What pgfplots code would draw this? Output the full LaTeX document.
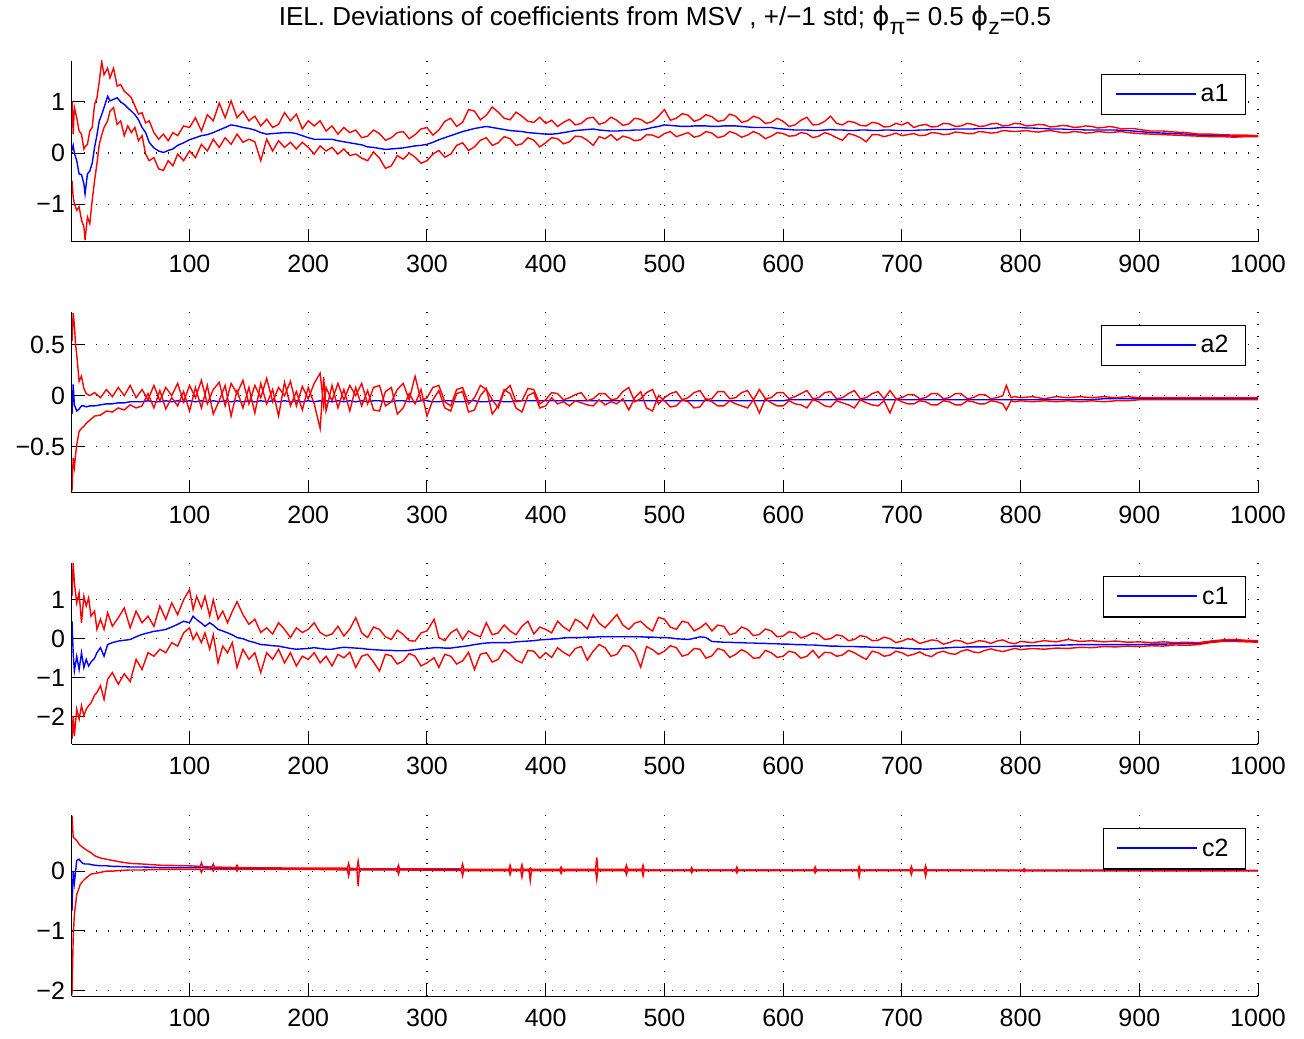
\documentclass[border=0pt]{standalone}
\usepackage{fontspec}
\setmainfont{Liberation Sans}
\newfontfamily\dejavu{DejaVu Sans}
\usepackage{pgfplots}
\usepackage{pgfplotstable}
\pgfplotsset{compat=1.18}

% columns: x, mean+std, mean, mean-std
\pgfplotstableread{
x up m lo
1 1.02 0.05 -0.54
2 0.37 0.15 -0.86
3 0.89 0.00 -0.99
5 0.69 -0.15 -1.12
7 0.43 -0.41 -1.05
9 0.37 -0.42 -1.31
11 0.08 -0.60 -1.44
12 0.12 -0.80 -1.70
14 0.17 -0.41 -1.25
16 0.43 -0.35 -1.38
18 0.50 -0.20 -0.93
20 0.95 0.11 -0.54
22 1.08 0.35 -0.21
24 1.40 0.63 0.17
26 1.79 0.75 0.35
28 1.53 0.89 0.50
31 1.66 1.11 0.63
33 1.47 1.02 0.82
36 1.66 1.05 0.89
39 1.31 1.08 0.56
42 1.34 1.00 0.63
45 1.21 0.95 0.34
48 1.15 0.88 0.53
51 1.08 0.82 0.40
54 0.92 0.75 0.50
57 0.76 0.65 0.24
60 0.79 0.50 0.34
63 0.59 0.40 -0.02
66 0.63 0.21 -0.15
70 0.40 0.10 -0.09
74 0.27 0.04 -0.31
78 0.37 0.01 -0.34
82 0.24 0.05 -0.15
86 0.40 0.08 -0.25
90 0.34 0.15 -0.02
95 0.53 0.20 -0.15
100 0.50 0.26 0.04
105 0.69 0.30 -0.09
110 0.43 0.34 0.17
115 0.75 0.36 0.04
120 0.63 0.40 0.27
125 0.98 0.45 0.11
130 0.69 0.50 0.30
135 1.02 0.55 0.17
140 0.69 0.53 0.37
145 0.82 0.50 0.21
150 0.63 0.48 0.27
155 0.72 0.45 0.22
160 0.53 0.40 -0.15
165 0.66 0.37 0.27
170 0.50 0.38 0.04
175 0.56 0.39 0.24
180 0.79 0.40 0.11
185 0.63 0.40 0.21
190 0.76 0.38 0.08
195 0.47 0.34 0.21
200 0.63 0.30 0.11
205 0.53 0.27 -0.02
210 0.63 0.27 0.14
215 0.43 0.27 0.04
220 0.53 0.27 0.11
225 0.37 0.24 -0.02
230 0.50 0.22 0.08
235 0.40 0.20 -0.05
240 0.45 0.18 -0.02
245 0.30 0.16 -0.10
250 0.33 0.12 -0.15
255 0.45 0.11 0.02
260 0.38 0.09 -0.10
265 0.25 0.07 -0.30
270 0.30 0.08 -0.25
275 0.40 0.09 -0.05
280 0.42 0.10 -0.12
285 0.28 0.12 0.00
290 0.36 0.14 -0.08
295 0.47 0.15 -0.20
300 0.50 0.17 -0.15
305 0.35 0.21 -0.02
310 0.45 0.26 0.05
315 0.62 0.30 -0.08
320 0.68 0.34 -0.02
325 0.52 0.38 0.15
330 0.60 0.42 0.20
335 0.85 0.45 0.05
340 0.82 0.48 0.12
345 0.65 0.50 0.25
350 0.74 0.52 0.30
355 0.90 0.50 0.15
360 0.80 0.48 0.20
365 0.68 0.46 0.32
370 0.65 0.44 0.28
375 0.80 0.43 0.15
380 0.72 0.42 0.18
385 0.62 0.40 0.30
390 0.60 0.39 0.25
395 0.70 0.38 0.12
400 0.58 0.37 0.20
405 0.64 0.37 0.30
410 0.52 0.38 0.28
415 0.60 0.40 0.18
420 0.66 0.42 0.22
425 0.55 0.44 0.33
430 0.58 0.45 0.32
435 0.68 0.46 0.25
440 0.70 0.47 0.15
445 0.56 0.45 0.32
450 0.60 0.44 0.28
455 0.70 0.43 0.36
460 0.64 0.43 0.25
465 0.54 0.44 0.33
470 0.57 0.44 0.30
475 0.68 0.45 0.24
480 0.66 0.45 0.26
485 0.58 0.47 0.36
490 0.62 0.50 0.35
495 0.72 0.52 0.30
500 0.85 0.55 0.38
505 0.64 0.54 0.42
510 0.68 0.53 0.32
515 0.77 0.52 0.36
520 0.74 0.52 0.40
525 0.62 0.53 0.31
530 0.66 0.53 0.34
535 0.75 0.53 0.42
540 0.71 0.52 0.39
545 0.62 0.52 0.30
550 0.64 0.53 0.33
555 0.76 0.53 0.42
560 0.72 0.53 0.38
565 0.60 0.52 0.31
570 0.63 0.51 0.35
575 0.72 0.50 0.42
580 0.68 0.50 0.37
585 0.58 0.50 0.28
590 0.60 0.50 0.33
595 0.68 0.48 0.40
600 0.62 0.47 0.38
605 0.52 0.46 0.33
610 0.55 0.45 0.34
615 0.64 0.45 0.40
620 0.70 0.45 0.38
625 0.55 0.44 0.30
630 0.56 0.44 0.33
635 0.62 0.45 0.40
640 0.72 0.46 0.36
645 0.58 0.45 0.30
650 0.55 0.45 0.25
655 0.62 0.44 0.38
660 0.60 0.44 0.35
665 0.54 0.45 0.30
670 0.53 0.45 0.22
675 0.60 0.44 0.36
680 0.58 0.44 0.36
685 0.51 0.45 0.32
690 0.52 0.45 0.35
695 0.58 0.44 0.39
700 0.55 0.44 0.34
705 0.60 0.44 0.36
710 0.50 0.44 0.38
715 0.54 0.45 0.34
720 0.56 0.45 0.35
725 0.51 0.46 0.40
730 0.52 0.46 0.39
735 0.58 0.46 0.36
740 0.57 0.46 0.37
745 0.52 0.47 0.41
750 0.53 0.47 0.40
755 0.58 0.47 0.38
760 0.56 0.47 0.38
765 0.52 0.48 0.42
770 0.53 0.48 0.41
775 0.57 0.48 0.39
780 0.58 0.49 0.40
785 0.53 0.50 0.44
790 0.54 0.50 0.43
795 0.58 0.50 0.42
800 0.57 0.50 0.43
805 0.53 0.49 0.44
810 0.54 0.49 0.42
815 0.56 0.48 0.41
820 0.55 0.48 0.43
825 0.51 0.47 0.44
830 0.52 0.47 0.42
835 0.54 0.47 0.40
840 0.53 0.46 0.40
845 0.50 0.46 0.42
850 0.51 0.46 0.41
855 0.53 0.45 0.39
860 0.52 0.45 0.40
865 0.49 0.45 0.42
870 0.50 0.45 0.41
875 0.52 0.45 0.40
880 0.50 0.45 0.41
885 0.47 0.44 0.42
890 0.48 0.44 0.40
895 0.48 0.43 0.39
900 0.46 0.42 0.38
910 0.43 0.40 0.37
920 0.43 0.39 0.36
930 0.41 0.38 0.35
940 0.40 0.37 0.34
950 0.37 0.35 0.33
960 0.37 0.34 0.32
970 0.36 0.34 0.32
980 0.35 0.33 0.31
990 0.35 0.33 0.32
1000 0.34 0.33 0.32
}\tabAone

\pgfplotstableread{
x up m lo
1 0.53 -0.18 -0.93
2 0.81 0.11 -0.61
3 0.69 -0.09 -0.70
4 0.50 -0.12 -0.58
5 0.40 -0.15 -0.48
7 0.14 -0.13 -0.35
9 0.19 -0.10 -0.32
11 0.07 -0.10 -0.30
13 0.02 -0.11 -0.27
16 0.00 -0.10 -0.24
20 0.03 -0.10 -0.20
25 -0.02 -0.09 -0.19
30 0.06 -0.08 -0.15
35 -0.01 -0.08 -0.16
40 0.08 -0.07 -0.12
45 0.00 -0.07 -0.14
50 0.10 -0.06 -0.09
55 -0.02 -0.06 -0.12
60 0.06 -0.06 -0.10
65 -0.04 -0.05 0.02
70 0.10 -0.06 -0.12
75 -0.05 -0.06 0.05
80 0.08 -0.05 -0.13
85 0.00 -0.06 -0.02
90 0.12 -0.05 -0.10
95 -0.06 -0.06 0.04
100 0.10 -0.05 -0.15
105 -0.02 -0.06 0.08
110 0.15 -0.05 -0.12
115 -0.08 -0.06 0.10
120 0.06 -0.05 -0.18
125 0.13 -0.06 -0.05
130 -0.10 -0.05 0.10
135 0.12 -0.06 -0.20
140 0.02 -0.05 0.05
145 0.15 -0.06 -0.12
150 -0.08 -0.05 0.08
155 0.10 -0.06 -0.17
160 -0.02 -0.05 0.12
165 0.17 -0.06 -0.08
170 -0.06 -0.05 0.06
175 0.08 -0.06 -0.20
180 0.00 -0.05 0.13
185 0.14 -0.06 -0.10
190 -0.10 -0.05 0.04
195 0.09 -0.06 -0.14
200 -0.03 -0.05 0.08
205 0.12 -0.06 -0.08
210 0.22 -0.05 -0.32
213 -0.10 -0.06 0.18
215 0.08 -0.05 -0.15
220 -0.05 -0.06 0.10
225 0.12 -0.05 -0.12
230 -0.04 -0.06 0.06
235 0.10 -0.05 -0.15
240 0.00 -0.06 0.08
245 0.12 -0.05 -0.10
250 -0.08 -0.06 0.05
255 0.08 -0.05 -0.14
260 0.10 -0.05 -0.15
265 -0.10 -0.06 0.04
270 -0.06 -0.06 0.08
275 0.06 -0.05 -0.18
280 0.12 -0.05 -0.12
285 -0.04 -0.06 0.02
290 0.19 -0.06 -0.08
295 -0.05 -0.05 0.06
300 -0.02 -0.05 -0.20
305 0.08 -0.06 -0.04
310 0.10 -0.06 0.05
315 -0.06 -0.05 -0.12
320 -0.10 -0.05 -0.15
325 0.06 -0.06 0.02
330 0.08 -0.06 0.04
335 -0.08 -0.05 -0.16
340 -0.02 -0.05 -0.14
345 0.10 -0.06 0.00
350 0.06 -0.06 0.07
355 -0.04 -0.05 -0.18
360 -0.12 -0.05 -0.10
365 0.04 -0.06 0.06
370 0.10 -0.06 0.02
375 -0.06 -0.05 -0.12
380 -0.05 -0.05 -0.16
385 0.07 -0.05 0.00
390 0.06 -0.05 0.03
395 -0.08 -0.05 -0.12
400 -0.04 -0.05 -0.10
405 0.03 -0.05 -0.02
410 0.02 -0.05 -0.08
415 -0.04 -0.05 -0.06
420 -0.02 -0.05 -0.10
425 0.01 -0.05 -0.05
430 0.03 -0.05 -0.07
435 -0.05 -0.05 -0.09
440 -0.03 -0.05 -0.10
445 0.02 -0.05 -0.04
450 0.02 -0.05 -0.09
455 -0.04 -0.05 -0.06
460 -0.03 -0.05 -0.08
465 0.04 -0.05 -0.03
470 0.08 -0.05 -0.14
475 -0.06 -0.05 -0.02
480 -0.03 -0.05 0.04
485 0.03 -0.05 -0.12
490 0.06 -0.05 -0.15
495 -0.08 -0.05 0.00
500 -0.02 -0.05 -0.05
505 0.02 -0.05 -0.11
510 0.04 -0.05 -0.10
515 -0.04 -0.05 -0.04
520 -0.02 -0.05 -0.06
525 0.03 -0.05 -0.12
530 0.05 -0.05 -0.11
535 -0.04 -0.05 -0.03
540 -0.03 -0.05 -0.06
545 0.04 -0.05 -0.10
550 0.04 -0.05 -0.10
555 -0.03 -0.05 -0.05
560 -0.02 -0.05 -0.08
565 0.03 -0.05 -0.10
570 0.05 -0.05 -0.12
575 -0.04 -0.05 -0.04
580 0.06 -0.05 -0.17
585 -0.03 -0.05 -0.03
590 -0.02 -0.05 -0.07
595 0.03 -0.05 -0.10
600 0.03 -0.05 -0.10
605 -0.03 -0.04 -0.05
610 -0.01 -0.04 -0.08
615 0.02 -0.04 -0.09
620 0.05 -0.04 -0.12
625 -0.03 -0.04 -0.04
630 -0.02 -0.04 -0.06
635 0.03 -0.04 -0.10
640 0.04 -0.04 -0.11
645 -0.03 -0.04 -0.05
650 -0.02 -0.04 -0.07
655 0.02 -0.04 -0.09
660 0.05 -0.04 -0.12
665 -0.03 -0.04 -0.04
670 -0.02 -0.04 -0.07
675 0.02 -0.04 -0.09
680 0.04 -0.04 -0.10
685 -0.03 -0.04 -0.05
690 0.05 -0.04 -0.17
695 -0.03 -0.04 -0.03
700 -0.02 -0.04 -0.06
705 0.01 -0.04 -0.08
710 0.01 -0.04 -0.08
715 -0.03 -0.04 -0.05
720 -0.02 -0.04 -0.06
725 0.02 -0.04 -0.09
730 0.02 -0.04 -0.09
735 -0.03 -0.04 -0.05
740 -0.02 -0.04 -0.06
745 0.02 -0.04 -0.09
750 0.02 -0.04 -0.09
755 -0.03 -0.04 -0.05
760 -0.02 -0.04 -0.06
765 0.01 -0.04 -0.08
770 0.01 -0.04 -0.08
775 -0.03 -0.04 -0.05
780 -0.02 -0.04 -0.06
785 0.00 -0.04 -0.08
788 0.10 -0.04 -0.14
792 -0.02 -0.04 -0.05
795 -0.01 -0.04 -0.06
800 -0.02 -0.04 -0.05
810 -0.01 -0.04 -0.06
820 -0.03 -0.04 -0.05
830 -0.01 -0.04 -0.06
840 -0.02 -0.04 -0.05
850 -0.01 -0.04 -0.06
860 -0.02 -0.04 -0.05
870 -0.01 -0.03 -0.06
880 -0.02 -0.03 -0.05
890 -0.01 -0.03 -0.05
900 -0.02 -0.03 -0.04
920 -0.02 -0.03 -0.04
940 -0.02 -0.03 -0.04
960 -0.02 -0.03 -0.04
980 -0.02 -0.03 -0.04
1000 -0.02 -0.03 -0.04
}\tabAtwo

\pgfplotstableread{
x up m lo
1 1.09 0.45 -2.58
2 1.95 -0.36 -1.98
3 1.44 -0.83 -2.50
5 0.92 -0.45 -1.81
7 1.18 -0.79 -2.07
9 0.41 -0.36 -1.72
11 1.09 -0.74 -1.98
13 0.84 -0.53 -1.81
15 1.05 -0.70 -1.72
17 0.58 -0.60 -1.65
20 0.71 -0.50 -1.45
22 0.24 -0.36 -1.38
25 0.50 -0.23 -1.21
28 0.24 -0.45 -1.56
31 0.67 -0.15 -1.04
35 0.32 -0.10 -0.87
40 0.54 -0.06 -1.17
45 0.79 -0.04 -0.90
50 0.28 -0.02 -1.10
55 0.71 0.05 -0.53
60 0.41 0.11 -0.79
65 0.58 0.15 -0.36
70 0.32 0.19 -0.45
75 0.84 0.21 -0.27
80 0.50 0.24 -0.36
85 0.92 0.30 -0.10
90 0.62 0.37 -0.19
95 1.00 0.45 0.15
100 1.26 0.41 0.28
103 0.75 0.58 -0.02
106 1.09 0.49 0.15
110 0.79 0.40 -0.10
113 1.09 0.32 0.15
117 0.58 0.41 -0.27
120 1.00 0.35 0.10
124 0.50 0.24 -0.62
128 0.71 0.20 -0.19
132 0.41 0.15 -0.36
136 0.70 0.10 -0.10
140 0.95 0.03 -0.74
145 0.62 0.00 -0.27
150 0.37 -0.06 -0.53
155 0.50 -0.10 -0.36
160 0.16 -0.15 -0.87
165 0.28 -0.16 -0.36
170 0.12 -0.18 -0.53
175 0.41 -0.19 -0.27
180 0.24 -0.22 -0.62
185 0.03 -0.25 -0.36
190 0.28 -0.27 -0.70
195 0.16 -0.26 -0.45
200 0.24 -0.25 -0.53
205 0.41 -0.23 -0.36
210 0.16 -0.25 -0.62
215 0.07 -0.27 -0.45
220 0.12 -0.27 -0.70
225 0.32 -0.24 -0.40
230 0.07 -0.22 -0.49
235 0.25 -0.23 -0.35
240 0.54 -0.24 -0.74
245 0.15 -0.25 -0.45
250 0.03 -0.27 -0.40
255 0.30 -0.28 -0.60
260 0.24 -0.29 -0.83
265 0.05 -0.30 -0.40
270 -0.02 -0.30 -0.44
275 0.22 -0.31 -0.65
280 0.11 -0.31 -0.57
285 -0.05 -0.30 -0.38
290 -0.06 -0.28 -0.45
295 0.15 -0.26 -0.70
300 0.20 -0.25 -0.62
306 0.50 -0.23 -0.49
310 0.03 -0.23 -0.74
315 -0.05 -0.24 -0.40
320 0.15 -0.24 -0.45
325 0.25 -0.22 -0.65
330 -0.02 -0.20 -0.57
335 0.20 -0.18 -0.35
340 0.11 -0.15 -0.79
345 0.05 -0.13 -0.40
350 0.41 -0.11 -0.36
355 0.10 -0.10 -0.60
360 0.15 -0.10 -0.53
365 0.35 -0.10 -0.28
370 0.20 -0.10 -0.40
375 0.10 -0.08 -0.55
380 0.32 -0.07 -0.62
385 0.45 -0.06 -0.30
390 0.12 -0.05 -0.32
395 0.30 -0.03 -0.50
400 0.24 -0.02 -0.36
405 0.15 -0.01 -0.48
410 0.45 0.00 -0.23
415 0.30 0.02 -0.35
420 0.20 0.03 -0.44
425 0.50 0.03 -0.25
430 0.41 0.03 -0.20
435 0.25 0.04 -0.55
440 0.62 0.04 -0.32
445 0.40 0.05 -0.15
450 0.28 0.05 -0.23
455 0.45 0.05 -0.45
460 0.62 0.05 -0.40
465 0.35 0.05 -0.18
470 0.24 0.05 -0.19
475 0.40 0.05 -0.35
480 0.45 0.05 -0.73
485 0.30 0.04 -0.20
490 0.20 0.04 -0.28
495 0.55 0.03 -0.40
500 0.50 0.03 -0.32
505 0.30 0.02 -0.18
510 0.24 0.00 -0.23
515 0.45 -0.01 -0.45
520 0.41 -0.02 -0.40
525 0.20 0.01 -0.25
530 0.28 0.05 -0.27
535 0.40 0.03 -0.50
540 0.20 -0.07 -0.44
545 0.35 -0.08 -0.25
550 0.32 -0.09 -0.30
555 0.10 -0.09 -0.48
560 0.15 -0.10 -0.40
565 0.30 -0.10 -0.28
570 0.24 -0.11 -0.36
575 0.08 -0.11 -0.50
580 0.11 -0.12 -0.49
585 0.25 -0.12 -0.30
590 0.20 -0.13 -0.36
595 0.05 -0.13 -0.48
600 0.07 -0.14 -0.45
605 0.18 -0.14 -0.32
610 0.15 -0.15 -0.36
615 0.02 -0.15 -0.50
620 0.07 -0.16 -0.45
625 0.15 -0.16 -0.30
630 0.11 -0.17 -0.49
635 -0.02 -0.18 -0.35
640 0.00 -0.19 -0.36
645 0.10 -0.19 -0.45
650 0.07 -0.20 -0.42
655 -0.05 -0.20 -0.30
660 -0.02 -0.20 -0.36
665 0.08 -0.21 -0.45
670 0.05 -0.21 -0.53
675 -0.05 -0.22 -0.32
680 -0.04 -0.22 -0.36
685 0.04 -0.23 -0.45
690 0.00 -0.23 -0.42
695 -0.10 -0.24 -0.32
700 -0.06 -0.24 -0.36
705 0.00 -0.25 -0.44
710 -0.03 -0.26 -0.40
715 -0.12 -0.26 -0.34
720 -0.08 -0.27 -0.42
725 -0.03 -0.26 -0.46
730 -0.05 -0.25 -0.36
735 -0.14 -0.24 -0.32
740 -0.10 -0.23 -0.38
745 -0.04 -0.22 -0.40
750 -0.06 -0.22 -0.32
755 -0.13 -0.21 -0.28
760 -0.10 -0.21 -0.34
765 -0.05 -0.21 -0.36
770 -0.07 -0.21 -0.30
775 -0.12 -0.20 -0.26
780 -0.06 -0.20 -0.30
785 -0.03 -0.20 -0.33
790 -0.10 -0.20 -0.29
795 -0.13 -0.19 -0.25
800 -0.07 -0.19 -0.28
810 -0.10 -0.18 -0.25
820 -0.05 -0.18 -0.27
830 -0.08 -0.17 -0.24
840 -0.02 -0.16 -0.25
850 -0.07 -0.15 -0.22
860 -0.05 -0.15 -0.23
870 -0.08 -0.15 -0.20
880 -0.06 -0.15 -0.21
890 -0.09 -0.15 -0.19
900 -0.08 -0.15 -0.20
910 -0.10 -0.14 -0.18
920 -0.08 -0.14 -0.19
930 -0.10 -0.13 -0.16
940 -0.09 -0.13 -0.17
950 -0.10 -0.12 -0.15
960 -0.06 -0.08 -0.10
970 -0.03 -0.05 -0.07
980 -0.02 -0.05 -0.07
990 -0.04 -0.06 -0.08
1000 -0.05 -0.07 -0.09
}\tabCone

\pgfplotstableread{
x up m lo
1 0.93 -0.67 -2.07
2 0.57 0.00 -1.12
3 0.55 -0.20 -0.72
5 0.51 0.18 -0.39
7 0.45 0.20 -0.28
8 0.43 0.17 -0.22
10 0.40 0.13 -0.17
12 0.37 0.12 -0.13
15 0.33 0.12 -0.08
17 0.31 0.11 -0.05
20 0.26 0.10 -0.04
25 0.22 0.09 -0.02
30 0.20 0.09 0.00
35 0.18 0.08 0.00
40 0.16 0.08 0.01
50 0.13 0.07 0.02
60 0.12 0.07 0.02
75 0.10 0.06 0.03
100 0.09 0.06 0.03
109 0.08 0.06 0.03
110 0.14 0.06 -0.02
111 0.08 0.06 0.03
119 0.07 0.05 0.03
120 0.12 0.05 0.00
121 0.07 0.05 0.03
139 0.06 0.05 0.03
140 0.10 0.05 0.00
141 0.06 0.05 0.03
200 0.05 0.04 0.03
233 0.05 0.03 0.02
234 0.13 0.03 -0.08
235 0.05 0.03 0.02
241 0.04 0.03 0.02
242 0.17 0.03 -0.25
243 0.04 0.03 0.02
275 0.04 0.03 0.02
276 0.10 0.03 -0.05
277 0.04 0.03 0.02
329 0.04 0.02 0.01
330 0.12 0.02 -0.08
331 0.03 0.02 0.01
369 0.03 0.02 0.01
370 0.10 0.02 -0.06
371 0.03 0.02 0.01
379 0.03 0.02 0.01
380 0.11 0.02 -0.10
381 0.03 0.02 0.01
386 0.03 0.02 0.01
387 0.05 0.02 -0.16
388 0.03 0.02 0.01
412 0.03 0.02 0.01
413 0.07 0.02 -0.04
414 0.03 0.02 0.01
442 0.03 0.02 0.01
443 0.23 0.02 -0.14
444 0.03 0.02 0.01
467 0.03 0.02 0.01
468 0.10 0.02 -0.06
469 0.03 0.02 0.01
481 0.03 0.02 0.01
482 0.10 0.02 -0.08
483 0.02 0.02 0.01
522 0.02 0.02 0.01
523 0.06 0.02 -0.03
524 0.02 0.02 0.01
560 0.02 0.02 0.01
561 0.07 0.02 -0.03
562 0.02 0.02 0.01
626 0.02 0.02 0.01
627 0.07 0.02 -0.03
628 0.02 0.02 0.01
663 0.02 0.02 0.01
664 0.08 0.02 -0.10
665 0.02 0.02 0.01
707 0.02 0.02 0.01
708 0.08 0.02 -0.06
709 0.02 0.02 0.01
719 0.02 0.02 0.01
720 0.09 0.02 -0.09
721 0.02 0.02 0.01
802 0.02 0.01 0.01
803 0.04 0.01 -0.01
804 0.02 0.01 0.01
1000 0.01 0.01 0.01
}\tabCtwo

\pgfplotsset{
  panel/.style={
    scale only axis, width=593pt, height=90.5pt,
    xmin=1, xmax=1000, xtick={100,200,...,1000},
    axis x line*=bottom, axis y line*=left,
    axis line style={black, line width=0.5pt},
    tick align=inside, major tick length=6pt,
    tick style={black, line width=0.5pt},
    grid=major,
    grid style={black, line width=0.6pt, dash pattern=on 0.6pt off 5.4pt},
    tick label style={font=\fontsize{12.5}{14}\selectfont},
    /pgf/number format/assume math mode=true,
    /pgf/number format/1000 sep={},
    xticklabel style={yshift=-3pt},
    legend style={at={(1,1)}, anchor=north east, xshift=-6pt, yshift=-6.5pt,
      draw=black, line width=0.6pt, font=\fontsize{12.5}{14}\selectfont,
      inner xsep=6.5pt, inner ysep=3pt},
    legend image code/.code={\draw[blue, line width=0.9pt] (0pt,0.3pt) -- (40pt,0.3pt);},
  },
  mid/.style={blue, line width=0.7pt},
  band/.style={red, line width=0.7pt, forget plot},
}

\begin{document}
\begin{tikzpicture}
\path[use as bounding box] (-36pt,30.5pt) rectangle (616pt,-488.5pt);

\node[anchor=base, font=\fontsize{13}{15}\selectfont] at (296.5pt,17.5pt)
  {IEL. Deviations of coefficients from MSV , +/−1 std; {\dejavu ϕ}\raisebox{-0.6ex}{\fontsize{11.5}{12}\selectfont π}= 0.5 {\dejavu ϕ}\raisebox{-0.6ex}{\fontsize{11.5}{12}\selectfont z}=0.5};

\begin{axis}[panel, at={(0pt,0pt)}, anchor=north west,
  ymin=-1.74, ymax=1.8, ytick={-1,0,1}, yticklabels={−1,0,1}]
\addplot[mid] table[x=x, y=m] {\tabAone};
\addlegendentry{a1}
\addplot[band] table[x=x, y=up] {\tabAone};
\addplot[band] table[x=x, y=lo] {\tabAone};
\end{axis}

\begin{axis}[panel, at={(0pt,-125.4pt)}, anchor=north west,
  ymin=-0.95, ymax=0.82, ytick={-0.5,0,0.5}, yticklabels={−0.5,0,0.5}]
\addplot[mid] table[x=x, y=m] {\tabAtwo};
\addlegendentry{a2}
\addplot[band] table[x=x, y=up] {\tabAtwo};
\addplot[band] table[x=x, y=lo] {\tabAtwo};
\end{axis}

\begin{axis}[panel, at={(0pt,-251.1pt)}, anchor=north west,
  ymin=-2.71, ymax=1.94, ytick={-2,-1,0,1}, yticklabels={−2,−1,0,1}]
\addplot[mid] table[x=x, y=m] {\tabCone};
\addlegendentry{c1}
\addplot[band] table[x=x, y=up] {\tabCone};
\addplot[band] table[x=x, y=lo] {\tabCone};
\end{axis}

\begin{axis}[panel, at={(0pt,-377pt)}, anchor=north west,
  ymin=-2.09, ymax=0.94, ytick={-2,-1,0}, yticklabels={−2,−1,0}]
\addplot[mid] table[x=x, y=m] {\tabCtwo};
\addlegendentry{c2}
\addplot[band] table[x=x, y=up] {\tabCtwo};
\addplot[band] table[x=x, y=lo] {\tabCtwo};
\end{axis}
\end{tikzpicture}
\end{document}
